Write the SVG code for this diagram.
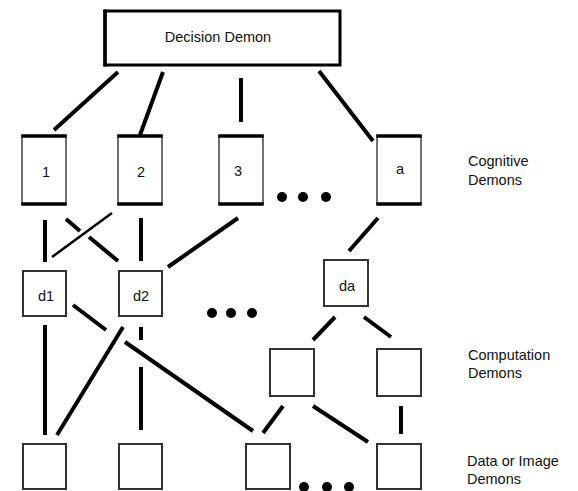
<svg xmlns="http://www.w3.org/2000/svg" width="578" height="491" viewBox="0 0 578 491">
<style>
  text { font-family: "Liberation Sans", Arial, sans-serif; font-size: 14.5px; fill: #111; }
  .c { text-anchor: middle; }
  .box { fill: #fff; stroke: #333; stroke-width: 2; }
  .cog { fill: #fff; stroke: #444; stroke-width: 1.5; }
  .edge { stroke: #000; stroke-width: 3.5; }
  .ln { stroke: #000; stroke-width: 4; fill: none; }
  .thin { stroke: #000; stroke-width: 2.5; fill: none; }
  .dot { fill: #000; }
</style>

<g id="connectors">
  <!-- decision to cognitive -->
  <line class="ln" x1="118" y1="72" x2="54" y2="130"/>
  <line class="ln" x1="163" y1="72" x2="140" y2="135"/>
  <line class="ln" x1="241" y1="78" x2="241" y2="122"/>
  <line class="ln" x1="319" y1="71" x2="373" y2="141"/>
  <!-- cognitive to d-level -->
  <line class="ln" x1="45" y1="220" x2="45" y2="262"/>
  <line class="ln" x1="66" y1="219" x2="80" y2="231"/>
  <line class="ln" x1="89" y1="237" x2="118" y2="261"/>
  <line class="thin" x1="112" y1="213" x2="52" y2="257"/>
  <line class="ln" x1="141" y1="218" x2="141" y2="261"/>
  <line class="ln" x1="238" y1="218" x2="168" y2="267"/>
  <line class="ln" x1="378" y1="218" x2="349" y2="251"/>
  <!-- d-level to bottom -->
  <line class="ln" x1="45" y1="325" x2="45" y2="435"/>
  <line class="ln" x1="123" y1="327" x2="57" y2="435"/>
  <line class="ln" x1="141" y1="327" x2="141" y2="340"/>
  <line class="ln" x1="141" y1="367" x2="141" y2="430"/>
  <line class="ln" x1="73" y1="305" x2="106" y2="330"/>
  <line class="ln" x1="125" y1="342" x2="253" y2="431"/>
  <!-- da to computation -->
  <line class="ln" x1="335" y1="317" x2="313" y2="340"/>
  <line class="ln" x1="364" y1="317" x2="391" y2="337"/>
  <!-- computation to data -->
  <line class="ln" x1="283" y1="406" x2="263" y2="433"/>
  <line class="ln" x1="313" y1="406" x2="368" y2="442"/>
  <line class="ln" x1="401" y1="406" x2="401" y2="434"/>
</g>

<g id="decision-demon">
  <rect x="105" y="11" width="235" height="54" fill="#fff" stroke="#000" stroke-width="3"/>
  <line class="edge" x1="105" y1="9.5" x2="105" y2="66.5" stroke-width="4.5"/>
  <text class="c" x="218" y="42">Decision Demon</text>
</g>

<g id="cog-1">
  <rect class="cog" x="22" y="136" width="44" height="68"/>
  <line class="edge" x1="21.25" y1="136" x2="66.75" y2="136"/>
  <line class="edge" x1="21.25" y1="204" x2="66.75" y2="204"/>
  <text class="c" x="46" y="177">1</text>
</g>
<g id="cog-2">
  <rect class="cog" x="118" y="136" width="44" height="68"/>
  <line class="edge" x1="117.25" y1="136" x2="162.75" y2="136"/>
  <line class="edge" x1="117.25" y1="204" x2="162.75" y2="204"/>
  <text class="c" x="141" y="177">2</text>
</g>
<g id="cog-3">
  <rect class="cog" x="219" y="136" width="44" height="68"/>
  <line class="edge" x1="218.25" y1="136" x2="263.75" y2="136"/>
  <line class="edge" x1="218.25" y1="204" x2="263.75" y2="204"/>
  <text class="c" x="238" y="176">3</text>
</g>
<g id="cog-a">
  <rect class="cog" x="377" y="136" width="44" height="68"/>
  <line class="edge" x1="376.25" y1="136" x2="421.75" y2="136"/>
  <line class="edge" x1="376.25" y1="204" x2="421.75" y2="204"/>
  <text class="c" x="400" y="174">a</text>
</g>

<g id="dots-cognitive">
  <circle class="dot" cx="282" cy="197" r="5"/>
  <circle class="dot" cx="303" cy="197" r="5"/>
  <circle class="dot" cx="326" cy="197" r="5"/>
</g>

<g id="d1">
  <rect class="box" x="23" y="271" width="43" height="45"/>
  <text class="c" x="46" y="301">d1</text>
</g>
<g id="d2">
  <rect class="box" x="119" y="271" width="43" height="45"/>
  <text class="c" x="141" y="301">d2</text>
</g>
<g id="da">
  <rect class="box" x="324" y="260" width="44" height="46"/>
  <text class="c" x="347" y="291">da</text>
</g>

<g id="dots-middle">
  <circle class="dot" cx="212" cy="313" r="5"/>
  <circle class="dot" cx="231" cy="313" r="5"/>
  <circle class="dot" cx="252" cy="313" r="5"/>
</g>

<g id="comp-1">
  <rect class="box" x="270" y="349" width="44" height="47"/>
</g>
<g id="comp-2">
  <rect class="box" x="377" y="349" width="44" height="47"/>
</g>

<g id="data-1">
  <rect class="box" x="23" y="444" width="43" height="45"/>
</g>
<g id="data-2">
  <rect class="box" x="119" y="444" width="43" height="45"/>
</g>
<g id="data-3">
  <rect class="box" x="246" y="444" width="44" height="45"/>
</g>
<g id="data-4">
  <rect class="box" x="377" y="444" width="44" height="45"/>
</g>

<g id="dots-bottom">
  <circle class="dot" cx="304" cy="487" r="5"/>
  <circle class="dot" cx="327" cy="487" r="5"/>
  <circle class="dot" cx="349" cy="487" r="5"/>
</g>

<g id="labels">
  <text x="468" y="166">Cognitive</text>
  <text x="468" y="185">Demons</text>
  <text x="468" y="360">Computation</text>
  <text x="468" y="378">Demons</text>
  <text x="467" y="466">Data or Image</text>
  <text x="467" y="484">Demons</text>
</g>
</svg>
